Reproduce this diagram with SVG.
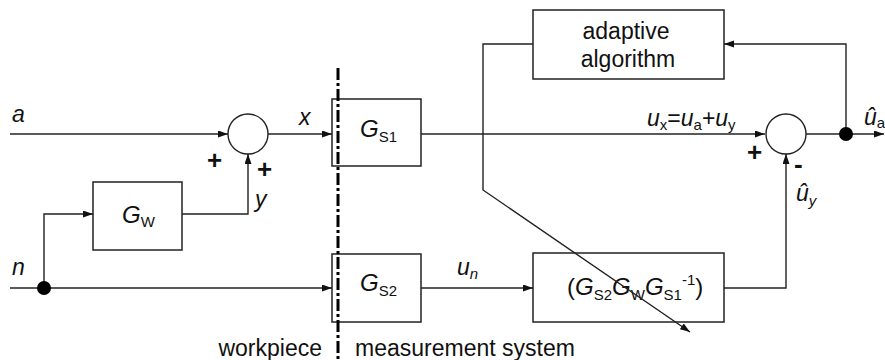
<svg xmlns="http://www.w3.org/2000/svg" width="885" height="360" viewBox="0 0 885 360">
<style>
  .ln { fill: none; stroke: #222; stroke-width: 1.4; }
  .box { fill: none; stroke: #222; stroke-width: 1.5; }
  .t { font-family: "Liberation Sans", Arial, sans-serif; font-size: 23px; fill: #111; }
  .g { font-family: "Liberation Sans", Arial, sans-serif; font-size: 24px; fill: #111; }
  .s { font-size: 15px; font-style: normal; }
  .i { font-style: italic; }
  .pm { font-family: "Liberation Sans", Arial, sans-serif; font-size: 26px; font-weight: bold; fill: #111; }
  .dot { fill: #000; }
</style>
<defs>
  <marker id="arr" markerUnits="userSpaceOnUse" markerWidth="11" markerHeight="8" refX="10" refY="3.5" orient="auto">
    <path d="M0,0 L10,3.5 L0,7 z" fill="#111"/>
  </marker>
</defs>

<g id="GW">
  <rect class="box" x="93" y="182" width="89" height="68"/>
  <text class="g" x="122" y="223"><tspan class="i">G</tspan><tspan class="s" dy="4">W</tspan></text>
</g>

<g id="GS1">
  <rect class="box" x="332" y="99" width="89" height="67"/>
  <text class="g" x="360" y="137"><tspan class="i">G</tspan><tspan class="s" dy="5">S1</tspan></text>
</g>

<g id="GS2">
  <rect class="box" x="332" y="254" width="89" height="68"/>
  <text class="g" x="360" y="291"><tspan class="i">G</tspan><tspan class="s" dy="5">S2</tspan></text>
</g>

<g id="adaptive">
  <rect class="box" x="533" y="10" width="191" height="69"/>
  <text class="t" x="626" y="39" text-anchor="middle" font-size="24.5">adaptive</text>
  <text class="t" x="628" y="67" text-anchor="middle" font-size="24.5">algorithm</text>
</g>

<g id="compensation">
  <rect class="box" x="533" y="253" width="191" height="69"/>
  <text class="g" x="567" y="295">(<tspan class="i">G</tspan><tspan class="s" dy="5">S2</tspan><tspan class="i" dy="-5">G</tspan><tspan class="s" dy="5">W</tspan><tspan class="i" dy="-5">G</tspan><tspan class="s" dy="5">S1</tspan><tspan class="s" dy="-15">-1</tspan><tspan dy="10">)</tspan></text>
</g>

<g id="sum1">
  <circle class="ln" cx="248" cy="134" r="20"/>
  <text class="pm" x="207" y="169">+</text>
  <text class="pm" x="257" y="178">+</text>
</g>

<g id="sum2">
  <circle class="ln" cx="786" cy="134" r="20"/>
  <text class="pm" x="747" y="161">+</text>
  <text class="pm" x="794" y="173">-</text>
</g>

<g id="boundary">
  <line x1="338" y1="68" x2="338" y2="360" stroke="#000" stroke-width="3" stroke-dasharray="12 3 3 3"/>
</g>

<g id="connectors">
  <line class="ln" x1="10" y1="134" x2="228" y2="134" marker-end="url(#arr)"/>
  <line class="ln" x1="268" y1="134" x2="332" y2="134" marker-end="url(#arr)"/>
  <line class="ln" x1="10" y1="288" x2="332" y2="288" marker-end="url(#arr)"/>
  <polyline class="ln" points="44,288 44,214 93,214" marker-end="url(#arr)"/>
  <polyline class="ln" points="182,214 248,214 248,154" marker-end="url(#arr)"/>
  <line class="ln" x1="421" y1="134" x2="765" y2="134" marker-end="url(#arr)"/>
  <line class="ln" x1="421" y1="288" x2="533" y2="288" marker-end="url(#arr)"/>
  <polyline class="ln" points="724,288 786,288 786,154" marker-end="url(#arr)"/>
  <line class="ln" x1="806" y1="134" x2="884" y2="134" marker-end="url(#arr)"/>
  <polyline class="ln" points="846,134 846,44 724,44" marker-end="url(#arr)"/>
  <polyline class="ln" points="533,44 483,44 483,190 690,332" marker-end="url(#arr)"/>
  <circle class="dot" cx="44" cy="288" r="7"/>
  <circle class="dot" cx="846" cy="134" r="7"/>
</g>

<g id="labels">
  <text class="t i" x="12" y="122">a</text>
  <text class="t i" x="12" y="275">n</text>
  <text class="t i" x="299" y="125">x</text>
  <text class="t i" x="255" y="207">y</text>
  <text class="t" x="457" y="275"><tspan class="i">u</tspan><tspan class="s" style="font-style:italic" dy="4">n</tspan></text>
  <text class="t" x="647" y="126"><tspan class="i">u</tspan><tspan class="s" dy="4">x</tspan><tspan dy="-4">=</tspan><tspan class="i">u</tspan><tspan class="s" dy="4">a</tspan><tspan dy="-4">+</tspan><tspan class="i">u</tspan><tspan class="s" dy="4">y</tspan></text>
  <text class="t" x="796" y="201"><tspan class="i">û</tspan><tspan class="s" style="font-style:italic" dy="5">y</tspan></text>
  <text class="t" x="864" y="125"><tspan class="i">û</tspan><tspan class="s" dy="3">a</tspan></text>
  <text class="t" x="322" y="356" text-anchor="end">workpiece</text>
  <text class="t" x="355" y="356">measurement system</text>
</g>
</svg>
